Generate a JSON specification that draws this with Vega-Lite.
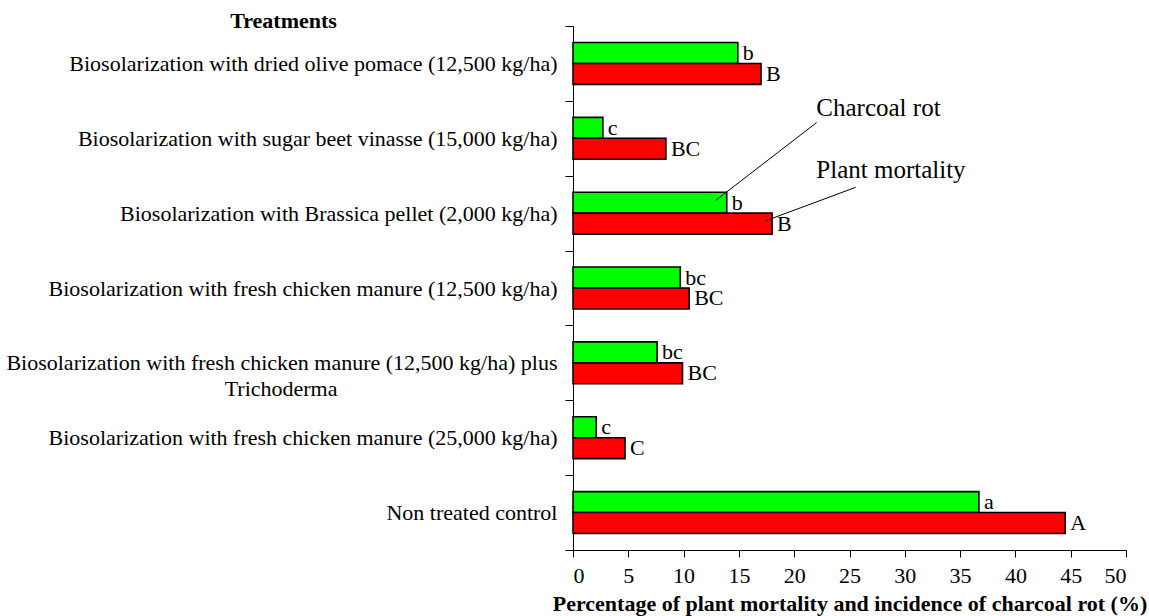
{
  "$schema": "https://vega.github.io/schema/vega-lite/v6.json",
  "width": 553,
  "height": 524,
  "autosize": "none",
  "padding": {"left": 573, "top": 26, "right": 23, "bottom": 66},
  "background": "white",
  "config": {
    "view": {"stroke": null},
    "font": "Liberation Serif",
    "text": {"font": "Liberation Serif"},
    "axis": {
      "labelFont": "Liberation Serif",
      "titleFont": "Liberation Serif",
      "labelFontSize": 22,
      "titleFontSize": 22,
      "labelColor": "black",
      "titleColor": "black",
      "domainColor": "black",
      "tickColor": "black",
      "grid": false
    }
  },
  "layer": [
    {
      "data": {
        "values": [
          {"treatment": "Biosolarization with dried olive pomace (12,500 kg/ha)", "measure": "Charcoal rot", "value": 14.9, "letter": "b"},
          {"treatment": "Biosolarization with dried olive pomace (12,500 kg/ha)", "measure": "Plant mortality", "value": 17.0, "letter": "B"},
          {"treatment": "Biosolarization with sugar beet vinasse (15,000 kg/ha)", "measure": "Charcoal rot", "value": 2.7, "letter": "c"},
          {"treatment": "Biosolarization with sugar beet vinasse (15,000 kg/ha)", "measure": "Plant mortality", "value": 8.4, "letter": "BC"},
          {"treatment": "Biosolarization with Brassica pellet (2,000 kg/ha)", "measure": "Charcoal rot", "value": 13.9, "letter": "b"},
          {"treatment": "Biosolarization with Brassica pellet (2,000 kg/ha)", "measure": "Plant mortality", "value": 18.0, "letter": "B"},
          {"treatment": "Biosolarization with fresh chicken manure (12,500 kg/ha)", "measure": "Charcoal rot", "value": 9.7, "letter": "bc"},
          {"treatment": "Biosolarization with fresh chicken manure (12,500 kg/ha)", "measure": "Plant mortality", "value": 10.5, "letter": "BC"},
          {"treatment": "Biosolarization with fresh chicken manure (12,500 kg/ha) plus Trichoderma", "measure": "Charcoal rot", "value": 7.6, "letter": "bc"},
          {"treatment": "Biosolarization with fresh chicken manure (12,500 kg/ha) plus Trichoderma", "measure": "Plant mortality", "value": 9.9, "letter": "BC"},
          {"treatment": "Biosolarization with fresh chicken manure (25,000 kg/ha)", "measure": "Charcoal rot", "value": 2.1, "letter": "c"},
          {"treatment": "Biosolarization with fresh chicken manure (25,000 kg/ha)", "measure": "Plant mortality", "value": 4.7, "letter": "C"},
          {"treatment": "Non treated control", "measure": "Charcoal rot", "value": 36.7, "letter": "a"},
          {"treatment": "Non treated control", "measure": "Plant mortality", "value": 44.5, "letter": "A"}
        ]
      },
      "encoding": {
        "y": {
          "field": "treatment",
          "type": "nominal",
          "sort": null,
          "scale": {"paddingInner": 0, "paddingOuter": 0},
          "axis": {
            "tickBand": "extent",
            "tickSize": 8,
            "labelPadding": 8,
            "labelLimit": 0,
            "labelLineHeight": 26,
            "labelFont": "Liberation Serif",
            "labelExpr": "datum.value == 'Biosolarization with fresh chicken manure (12,500 kg/ha) plus Trichoderma' ? ['Biosolarization with fresh chicken manure (12,500 kg/ha) plus', 'Trichoderma\u00a0\u00a0\u00a0\u00a0\u00a0\u00a0\u00a0\u00a0\u00a0\u00a0\u00a0\u00a0\u00a0\u00a0\u00a0\u00a0\u00a0\u00a0\u00a0\u00a0\u00a0\u00a0\u00a0\u00a0\u00a0\u00a0\u00a0\u00a0\u00a0\u00a0\u00a0\u00a0\u00a0\u00a0\u00a0\u00a0\u00a0\u00a0\u00a0\u00a0\u200b'] : datum.label",
            "title": "Treatments",
            "titleFont": "Liberation Serif",
            "titleAngle": 0,
            "titleFontWeight": "bold",
            "titleAlign": "center",
            "titleBaseline": "middle",
            "titleX": -290,
            "titleY": -6
          }
        },
        "yOffset": {
          "field": "measure",
          "type": "nominal",
          "sort": ["Charcoal rot", "Plant mortality"],
          "scale": {"paddingInner": 0, "paddingOuter": 0.786}
        },
        "x": {
          "field": "value",
          "type": "quantitative",
          "scale": {"domain": [0, 50], "nice": false},
          "axis": {
            "values": [0, 5, 10, 15, 20, 25, 30, 35, 40, 45, 50],
            "tickSize": 7,
            "labelPadding": 8,
            "labelFont": "Liberation Serif",
            "titleFont": "Liberation Serif",
            "titlePadding": 7,
            "titleFontWeight": "bold",
            "title": "Percentage of plant mortality and incidence of charcoal rot (%)"
          }
        }
      },
      "layer": [
        {
          "mark": {"type": "bar", "stroke": "black", "strokeWidth": 1.6},
          "encoding": {
            "color": {
              "field": "measure",
              "type": "nominal",
              "scale": {"domain": ["Charcoal rot", "Plant mortality"], "range": ["#00ff00", "#ff0000"]},
              "legend": null
            }
          }
        },
        {
          "mark": {"type": "text", "align": "left", "baseline": "middle", "dx": 5, "fontSize": 22, "font": "Liberation Serif", "color": "black"},
          "encoding": {
            "text": {"field": "letter", "type": "nominal"}
          }
        }
      ]
    },
    {
      "data": {
        "values": [
          {"label": "Charcoal rot", "x1": 22.03, "y1": 1.29, "x2": 12.9, "y2": 2.33, "tx": 22.0, "ty": 1.093},
          {"label": "Plant mortality", "x1": 25.56, "y1": 2.155, "x2": 17.45, "y2": 2.60, "tx": 22.0, "ty": 1.92}
        ]
      },
      "layer": [
        {
          "mark": {"type": "rule", "color": "black", "strokeWidth": 1},
          "encoding": {
            "x": {"field": "x1", "type": "quantitative", "scale": {"domain": [0, 50], "nice": false}, "title": "Percentage of plant mortality and incidence of charcoal rot (%)"},
            "x2": {"field": "x2"},
            "y": {"field": "y1", "type": "quantitative", "scale": {"domain": [0, 7], "nice": false, "reverse": true}, "axis": null},
            "y2": {"field": "y2"}
          }
        },
        {
          "mark": {"type": "text", "align": "left", "baseline": "middle", "fontSize": 25, "font": "Liberation Serif", "color": "black"},
          "encoding": {
            "x": {"field": "tx", "type": "quantitative", "title": "Percentage of plant mortality and incidence of charcoal rot (%)"},
            "y": {"field": "ty", "type": "quantitative", "axis": null},
            "text": {"field": "label", "type": "nominal"}
          }
        }
      ]
    }
  ],
  "resolve": {"scale": {"y": "independent"}}
}
